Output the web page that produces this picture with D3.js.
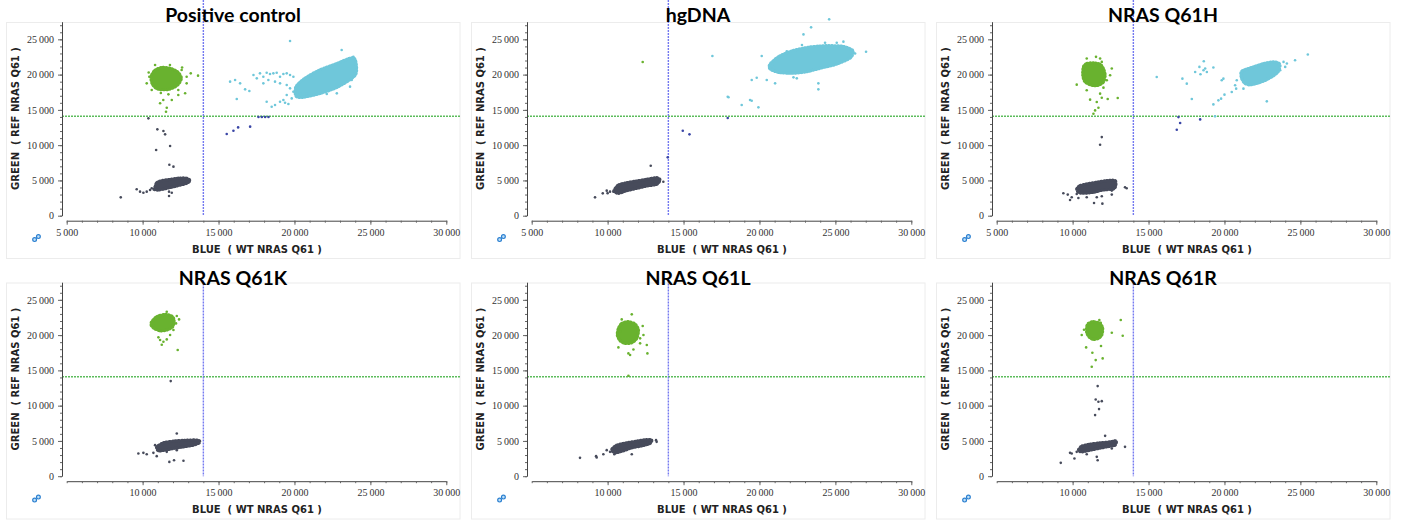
<!DOCTYPE html>
<html>
<head>
<meta charset="utf-8">
<script src="https://cdn.jsdelivr.net/npm/d3@7"></script>
<style>
  html, body { margin: 0; padding: 0; background: #fff; }
  svg { display: block; }
  .tick text { font-family: "Liberation Serif", serif; font-size: 10px; fill: #333; }
  .tick line { stroke: #666; }
  .domain { stroke: #444; }
  .axis-title { font-family: "DejaVu Sans", sans-serif; font-weight: bold; font-size: 10px; fill: #222; white-space: pre; }
  .panel-title { font-family: Lato, sans-serif; font-weight: bold; font-size: 19.5px; fill: #000; }
</style>
</head>
<body>
<div id="chart"></div>
<script>
// Panel titles (row by row)
const titles = ["Positive control", "hgDNA", "NRAS Q61H", "NRAS Q61K", "NRAS Q61L", "NRAS Q61R"];
const xTitle = "BLUE  ( WT NRAS Q61 )";
const yTitle = "GREEN  ( REF NRAS Q61 )";

// Tick values
const xMajorTop = [5000, 10000, 15000, 20000, 25000, 30000];
const xMajorBottom = [10000, 15000, 20000, 25000, 30000];
const yMajor = [0, 5000, 10000, 15000, 20000, 25000];

// Cluster call thresholds
const blueThreshold = 14000;
const greenThreshold = 14100;

// Dense cluster outlines, one list per panel ([blue, green] fluorescence)
const greenCores = [
  [[10550,19700],[10800,20600],[11250,21000],[11800,20900],[12300,20400],[12550,19500],[12300,18500],[11700,17900],[11000,17950],[10650,18600]],
  [],
  [[10710,21090],[10930,21570],[11370,21660],[11810,21470],[12030,20860],[12140,19910],[12030,18960],[11700,18490],[11260,18490],[10820,18960],[10670,19910]],
  [[10600,21900],[10930,22610],[11480,22940],[11920,22700],[12070,22140],[11980,21190],[11590,20720],[11150,20620],[10750,20950],[10560,21430]],
  [[10710,20950],[10930,21660],[11370,21900],[11810,21570],[12030,20720],[11920,19540],[11590,18920],[11150,18830],[10820,19200],[10640,20010]],
  [[10930,21190],[11040,21660],[11370,21900],[11810,21660],[11980,20950],[11920,20010],[11700,19540],[11370,19390],[11110,19680],[10930,20340]]
];
const cyanCores = [
  [[20100,18300],[20700,19500],[21600,20600],[22700,21500],[23800,22400],[24050,21700],[24000,19900],[22900,18300],[21800,17400],[20600,16800],[20100,16950]],
  [[20700,21500],[21300,22600],[22200,23400],[23300,23900],[24400,24100],[25500,24000],[26150,23400],[26000,22400],[25100,21500],[24000,20900],[23100,20400],[22200,20200],[21300,20300],[20700,20800]],
  [[21150,20500],[21850,21050],[22550,21550],[23250,21800],[23650,21450],[23500,20300],[22800,19300],[22200,18800],[21650,18550],[21300,18850],[21100,19700]],
  [], [], []
];
const darkCores = [
  [[10820,4120],[10930,4680],[11260,4970],[11810,5150],[12460,5340],[12900,5300],[13120,4970],[12900,4590],[12240,4210],[11590,3880],[11040,3640],[10750,3740]],
  [[10420,3550],[10710,4350],[11260,4680],[11920,4920],[12580,5160],[13230,5390],[13450,5060],[13230,4450],[12580,4210],[11920,3880],[11260,3550],[10710,3170]],
  [[10270,3790],[10490,4270],[10930,4500],[11590,4740],[12250,4980],[12800,4980],[12840,4270],[12690,3790],[12030,3650],[11370,3320],[10710,3180],[10380,3320]],
  [[10930,4160],[11370,4730],[12030,4970],[12910,5110],[13670,5110],[13740,4730],[13350,4400],[12690,4160],[12030,3930],[11480,3690],[11040,3600]],
  [[10270,3780],[10600,4400],[11260,4730],[11920,4970],[12580,5200],[12900,5110],[12790,4640],[12250,4300],[11590,4020],[11040,3600],[10490,3310]],
  [[10380,3690],[10600,4260],[11150,4540],[11810,4730],[12470,4870],[12860,5010],[12800,4400],[12250,4160],[11700,3930],[11150,3690],[10600,3450]]
];

// Scattered droplets outside the dense cores
const greenPoints = [
  [[13650,19850],[13170,20180],[10270,18760],[11540,14740],[11590,15300],[11150,15930],[11920,16400],[12350,17100],[12900,18760],[12570,20650],[10820,21360],[11800,21360],[10440,19700],[12900,19700],[11360,16400],[12350,17810],[10600,17810],[12800,17350],[11200,17400],[11700,17200],[12600,21000],[10400,20300]],
  [[12310,21780]],
  [[10270,18580],[11540,22520],[11810,22280],[11920,21800],[12580,20860],[12470,19910],[12250,19200],[12030,18150],[11810,17300],[11920,16730],[11590,16120],[11150,16450],[11700,15310],[11480,14930],[11370,14460],[12310,16540],[12970,16690],[10930,22280],[10930,17780]],
  [[11590,23320],[12250,22700],[12400,22230],[12200,21660],[12030,20720],[11150,19300],[11260,18640],[11370,19060],[11040,19680],[11590,19390],[12310,17880],[11810,20010],[10710,21330]],
  [[11590,22940],[10930,22230],[12310,21290],[12360,20010],[12140,18830],[12580,18590],[12620,17410],[10710,18260],[11370,17410],[11480,17170],[11700,17970],[11370,14240],[10820,20480],[12140,19540]],
  [[11760,22140],[11850,21760],[13170,22140],[13300,19910],[12580,20340],[10750,20770],[10890,18260],[11300,17500],[11520,16460],[11980,16700],[11260,15510],[11870,18450],[10600,20010]]
];
const cyanPoints = [
  [[15760,19000],[16090,19230],[16420,18760],[16750,17910],[17030,17670],[16200,16540],[17300,19940],[17520,19470],[17730,20180],[17950,19700],[18170,20270],[18390,20080],[18610,20180],[18830,20270],[19050,19700],[19270,20080],[19490,20180],[19710,19940],[19930,19700],[17950,18760],[18280,19230],[18720,19000],[19050,18760],[19490,18520],[19710,18050],[19930,17580],[18170,16160],[18500,15450],[18720,15690],[19050,16160],[19270,16400],[19380,16020],[19600,15830],[19490,17110],[19820,16630],[20370,17340],[19710,24760],[23110,23480],[23880,22540],[23990,20180],[23660,18290],[22790,17340],[22130,17250],[20810,17340],[23880,21590],[23770,19230]],
  [[16900,22630],[24590,27830],[23400,26700],[22900,25700],[24320,24520],[27020,23250],[20150,22630],[20920,21120],[20480,19230],[21030,18760],[19490,19230],[19820,19560],[19380,16400],[19490,16300],[18830,15690],[19930,15360],[17910,16870],[17960,16780],[23880,18760],[23880,17910],[22460,19470],[22240,19610],[25530,24670],[25090,24520],[26300,23000],[21800,23300],[22800,24200]],
  [[25490,22850],[24650,22040],[23890,21800],[24000,21090],[24110,21570],[23670,20620],[22790,16210],[21140,19430],[20810,19200],[20700,18490],[20480,17540],[20770,18010],[21250,18010],[19930,19430],[19820,19200],[20000,17160],[19780,16590],[19600,16350],[19270,15780],[19380,14080],[18620,20620],[18840,20380],[18730,20860],[18350,21090],[18070,20380],[18420,20050],[19270,21000],[18640,21900],[17520,18720],[17850,16540],[17230,19430],[15540,19670]],
  [], [], []
];
const darkPoints = [
  [[10380,13800],[10970,12240],[11370,12000],[11480,11530],[11810,9880],[10890,9310],[11760,7230],[12030,6950],[8560,2600],[9610,3740],[9830,3410],[10050,3260],[10270,3410],[10490,3640],[11740,3410],[11740,2790],[11920,3260],[13100,5100],[10600,3900]],
  [[12840,7090],[9170,2600],[9680,3170],[9940,3550],[10160,3410],[10380,3410],[13670,4820],[10000,3200]],
  [[11920,11140],[11810,10050],[13450,4030],[13560,3890],[9390,3180],[9680,2990],[9940,2610],[10270,3080],[10380,2510],[9830,2230],[11410,1800],[11960,1710],[10930,2610],[11590,2610],[11920,2750],[12580,3560],[12580,2990]],
  [[11850,13480],[12250,6050],[9720,3220],[10050,3310],[10270,3120],[10710,3310],[10930,2840],[10820,4400],[11760,2030],[12070,2270],[12690,2180],[11150,3690],[11590,3450],[12250,3690]],
  [[8180,2600],[9240,2840],[9280,2650],[9720,3120],[9940,3690],[10160,3450],[10440,3120],[10600,3690],[11590,3120],[13190,5110],[13230,4870],[12790,4730]],
  [[11650,12770],[11520,10880],[11700,10550],[11920,10640],[11740,9510],[11480,8660],[12140,5720],[9220,1890],[9940,3220],[10120,2510],[9830,3310],[10270,3450],[10930,3120],[11650,2270],[11590,2740],[12580,3930],[13450,4160],[12730,4490]]
];
const midPoints = [
  [[15540,11580],[15980,12050],[16290,12520],[17080,12620],[17630,14000],[17850,14000],[18070,14000],[18290,14000]],
  [[17910,13850],[14950,12050],[15390,11530],[13960,8270]],
  [[16970,13980],[17080,13130],[16860,12180],[18400,13650]],
  [], [], []
];

// Layout
const W = 1401, H = 520;
const COL_STEP = 465, ROW_STEP = 260.5;
const COLORS = { green: "#69b22f", cyan: "#6fc7da", dark: "#474b5b", mid: "#3a46a6" };

const svg = d3.select("#chart").append("svg")
  .attr("width", W)
  .attr("height", H);

// Shared scales (panel-local coordinates)
const x = d3.scaleLinear().domain([5000, 30000]).range([66.7, 446.3]);
const y = d3.scaleLinear().domain([0, 27500]).range([215.7, 21.7]);

const fmt = d3.formatLocale({ decimal: ".", thousands: "\u2009", grouping: [3], currency: ["", ""] }).format(",");

const outline = d3.line()
  .x(d => x(d[0]))
  .y(d => y(d[1]))
  .curve(d3.curveCardinalClosed.tension(0.2));

titles.forEach((title, i) => {
  const col = i % 3, row = Math.floor(i / 3);
  const g = svg.append("g")
    .attr("transform", `translate(${col * COL_STEP},${row * ROW_STEP})`);

  // Faint frame of the original panel image
  g.append("rect")
    .attr("x", 6.5).attr("y", 22.5)
    .attr("width", 453.5).attr("height", 236)
    .attr("fill", "none")
    .attr("stroke", "#ececec");

  // Threshold lines
  g.append("line")
    .attr("x1", 62).attr("x2", 460)
    .attr("y1", y(greenThreshold)).attr("y2", y(greenThreshold))
    .attr("stroke", "#5cbc5c")
    .attr("stroke-width", 1.3)
    .attr("stroke-dasharray", "2,1");

  g.append("line")
    .attr("x1", x(blueThreshold)).attr("x2", x(blueThreshold))
    .attr("y1", row === 0 ? 0 : 20).attr("y2", y(0))
    .attr("stroke", "#7479f0")
    .attr("stroke-width", 1.4)
    .attr("stroke-dasharray", "2,1");

  // Dense cores with a speckled rim
  const cores = [[darkCores[i], COLORS.dark], [greenCores[i], COLORS.green], [cyanCores[i], COLORS.cyan]];
  cores.forEach(([pts, color]) => {
    if (!pts.length) return;
    g.append("path")
      .attr("d", outline(pts))
      .attr("fill", color);
    g.append("path")
      .attr("d", outline(pts))
      .attr("fill", "none")
      .attr("stroke", color)
      .attr("stroke-width", 3.2)
      .attr("stroke-linecap", "round")
      .attr("stroke-dasharray", "0.8,2.2");
  });

  // Scattered droplets
  const sets = [[darkPoints[i], COLORS.dark], [greenPoints[i], COLORS.green], [cyanPoints[i], COLORS.cyan], [midPoints[i], COLORS.mid]];
  sets.forEach(([pts, color]) => {
    g.selectAll(null)
      .data(pts)
      .enter()
      .append("circle")
      .attr("cx", d => x(d[0]))
      .attr("cy", d => y(d[1]))
      .attr("r", 1.3)
      .attr("fill", color);
  });

  // Y axis
  g.append("g")
    .attr("transform", "translate(62,0)")
    .call(d3.axisLeft(y).tickValues(d3.range(0, 28000, 1000)).tickSize(2).tickSizeOuter(0).tickFormat(""));
  g.append("g")
    .attr("transform", "translate(62,0)")
    .call(d3.axisLeft(y).tickValues(yMajor).tickSize(4).tickSizeOuter(0).tickPadding(4).tickFormat(fmt))
    .call(a => a.select(".domain").remove());

  // X axis
  const xMajor = row === 0 ? xMajorTop : xMajorBottom;
  g.append("g")
    .attr("transform", "translate(0,220.7)")
    .call(d3.axisBottom(x).tickValues(d3.range(5000, 31000, 1000)).tickSize(2).tickSizeOuter(0).tickFormat(""));
  g.append("g")
    .attr("transform", "translate(0,220.7)")
    .call(d3.axisBottom(x).tickValues(xMajor).tickSize(4).tickSizeOuter(0).tickPadding(4).tickFormat(fmt))
    .call(a => a.select(".domain").remove());

  // Axis titles
  g.append("text")
    .attr("class", "axis-title")
    .attr("x", 257).attr("y", 252.5)
    .attr("text-anchor", "middle")
    .text(xTitle);

  g.append("text")
    .attr("class", "axis-title")
    .attr("transform", "translate(18.5,118.5) rotate(-90)")
    .attr("text-anchor", "middle")
    .text(yTitle);

  // Small link icon
  g.append("circle").attr("cx", 34.6).attr("cy", 239.6).attr("r", 1.9)
    .attr("fill", "#bfe0f8").attr("stroke", "#2a7fd0").attr("stroke-width", 1.2);
  g.append("circle").attr("cx", 38.4).attr("cy", 236.6).attr("r", 1.9)
    .attr("fill", "#bfe0f8").attr("stroke", "#2a7fd0").attr("stroke-width", 1.2);

  // Panel title
  g.append("text")
    .attr("class", "panel-title")
    .attr("x", 233).attr("y", row === 0 ? 22 : 24.5)
    .attr("text-anchor", "middle")
    .text(title);
});
</script>
</body>
</html>
